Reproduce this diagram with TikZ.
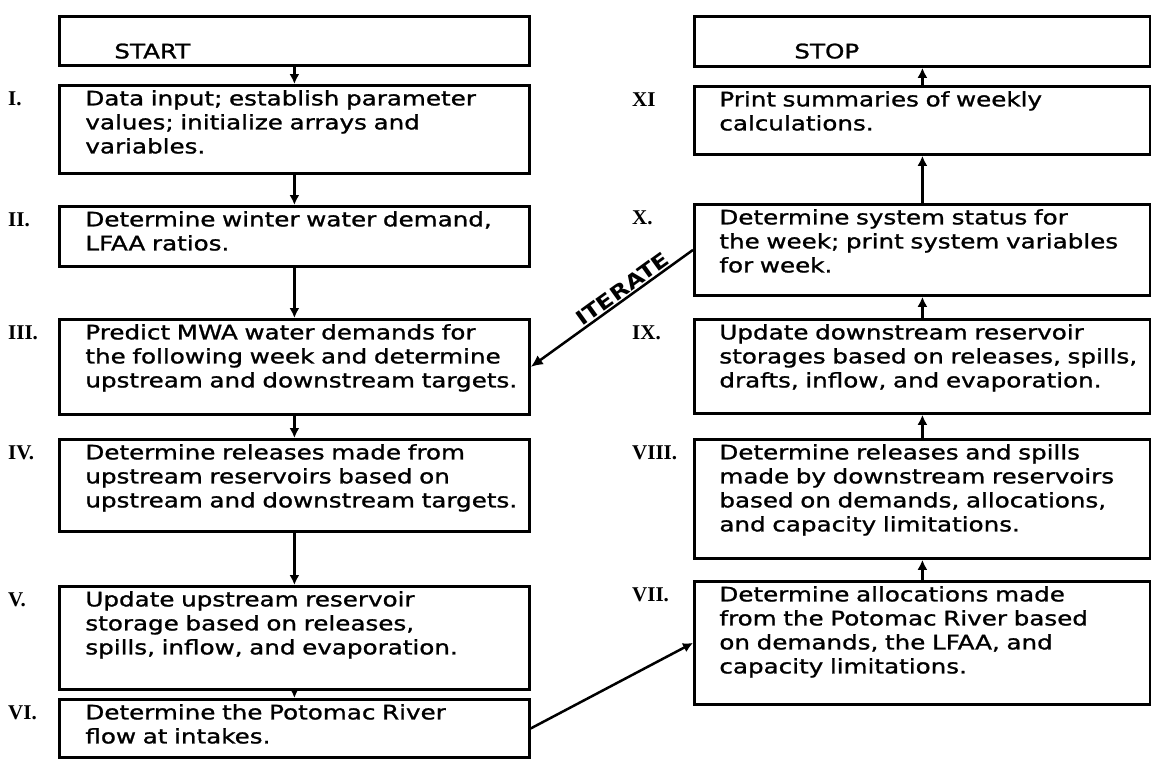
\documentclass[tikz,border=0pt]{standalone}
\usepackage{fontspec}
\setmainfont{DejaVu Sans}[FakeStretch=1.23, FakeBold=1.2]
\newfontfamily\numfont{Liberation Serif}
\newfontfamily\tagfont{DejaVu Sans}[FakeStretch=1.2]
\usetikzlibrary{arrows.meta}

% Boxes are anchored at their top-left corner; the first text line sits
% 20pt below the top edge and the text depth sets the box height.
\tikzset{
  box/.style={draw, line width=2.8pt, anchor=north west,
    inner xsep=0pt, inner ysep=0pt, text height=20pt,
    font=\fontsize{20}{24}\selectfont},
  lbox/.style={box, text width=470pt, minimum width=470pt,
    execute at begin node={\leftskip=26pt\rightskip=0pt plus 1fil}},
  rbox/.style={box, text width=456pt, minimum width=456pt,
    execute at begin node={\leftskip=25pt\rightskip=0pt plus 1fil}},
  numlabel/.style={anchor=base west, inner sep=0pt,
    font=\numfont\bfseries\fontsize{21}{21}\selectfont},
  flow/.style={line width=2.5pt, -{Latex[length=10pt,width=10pt]}},
  backflow/.style={line width=2.5pt, {Latex[length=12pt,width=11pt]}-},
  tag/.style={sloped, inner sep=1pt, font=\tagfont\bfseries\fontsize{20}{20}\selectfont}
}

\begin{document}
\begin{tikzpicture}[x=1pt, y=-1pt]
\useasboundingbox (0,0) rectangle (1151,758);

% label columns
\coordinate (lx) at (8,0);
\coordinate (rx) at (632,0);

% left column: start and steps I--VI
\node[lbox, text height=42pt, text depth=7pt] (start) at (58,15)
  {\hspace*{29pt}START};
\node[lbox, text depth=68pt] (s1) at (58,84)
  {Data input; establish parameter\\values; initialize arrays and\\variables.};
\node[lbox, text depth=40pt] (s2) at (58,205)
  {Determine winter water demand,\\LFAA ratios.};
\node[lbox, text depth=75pt] (s3) at (58,318)
  {Predict MWA water demands for\\the following week and determine\\upstream and downstream targets.};
\node[lbox, text depth=72pt] (s4) at (58,438)
  {Determine releases made from\\upstream reservoirs based on\\upstream and downstream targets.};
\node[lbox, text depth=83pt] (s5) at (58,585)
  {Update upstream reservoir\\storage based on releases,\\spills, inflow, and evaporation.};
\node[lbox, text depth=38pt] (s6) at (58,698)
  {Determine the Potomac River\\flow at intakes.};

% right column: steps VII--XI and stop
\node[rbox, text height=42pt, text depth=8pt] (stop) at (693,15)
  {\hspace*{75pt}STOP};
\node[rbox, text depth=48pt] (s11) at (693,85)
  {Print summaries of weekly\\calculations.};
\node[rbox, text depth=71pt] (s10) at (693,203)
  {Determine system status for\\the week; print system variables\\for week.};
\node[rbox, text depth=74pt] (s9) at (693,318)
  {Update downstream reservoir\\storages based on releases, spills,\\drafts, inflow, and evaporation.};
\node[rbox, text depth=99pt] (s8) at (693,438)
  {Determine releases and spills\\made by downstream reservoirs\\based on demands, allocations,\\and capacity limitations.};
\node[rbox, text depth=103pt] (s7) at (693,580)
  {Determine allocations made\\from the Potomac River based\\on demands, the LFAA, and\\capacity limitations.};

% step numbers
\node[numlabel] (n1) at (s1.base -| lx) {I.};
\node[numlabel] (n2) at (s2.base -| lx) {II.};
\node[numlabel] (n3) at (s3.base -| lx) {III.};
\node[numlabel] (n4) at (s4.base -| lx) {IV.};
\node[numlabel] (n5) at (s5.base -| lx) {V.};
\node[numlabel] (n6) at (s6.base -| lx) {VI.};
\node[numlabel] (n7) at (s7.base -| rx) {VII.};
\node[numlabel] (n8) at (s8.base -| rx) {VIII.};
\node[numlabel] (n9) at (s9.base -| rx) {IX.};
\node[numlabel] (n10) at (s10.base -| rx) {X.};
\node[numlabel] (n11) at (s11.base -| rx) {XI};

% flow down the left column
\draw[flow] (start.south) -- (s1.north);
\draw[flow] (s1.south) -- (s2.north);
\draw[flow] (s2.south) -- (s3.north);
\draw[flow] (s3.south) -- (s4.north);
\draw[flow] (s4.south) -- (s5.north);
\draw[flow] (s5.south) -- (s6.north);

% across to the right column and up
\draw[flow] (s6.east) -- (s7.west);
\draw[flow] (s7.north) -- (s8.south);
\draw[flow] (s8.north) -- (s9.south);
\draw[flow] (s9.north) -- (s10.south);
\draw[flow] (s10.north) -- (s11.south);
\draw[flow] (s11.north) -- (stop.south);

% weekly loop back to step III
\draw[backflow] (s3.east) -- node[tag, above, pos=0.6] (iter) {ITERATE} (s10.west);
\end{tikzpicture}
\end{document}
